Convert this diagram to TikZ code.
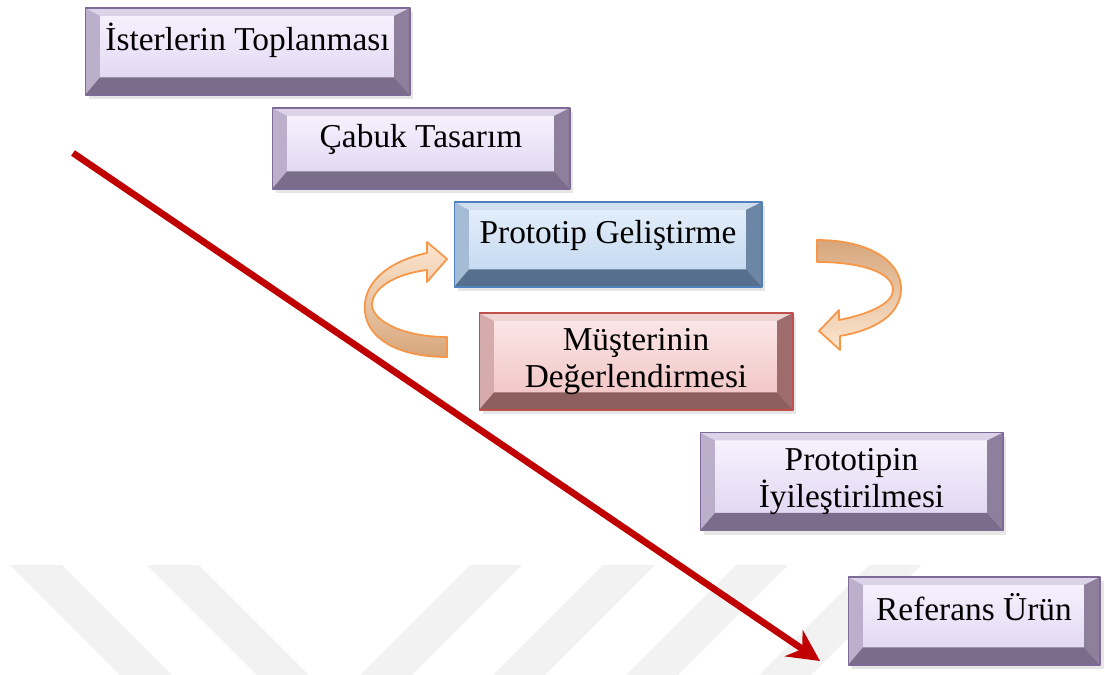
\documentclass[tikz,border=0pt]{standalone}
\usepackage{fontspec}
\setmainfont{Liberation Serif}
\usetikzlibrary{arrows.meta,shadows}
\definecolor{puedge}{HTML}{7E6A96}
\definecolor{puhi}{HTML}{F8F4FE}
\definecolor{pulo}{HTML}{DED2F0}
\definecolor{putop}{HTML}{DDD3E9}
\definecolor{puleft}{HTML}{BCAFCC}
\definecolor{puright}{HTML}{8E7F9D}
\definecolor{pubot}{HTML}{7A6C8A}
\definecolor{bledge}{HTML}{4F81BD}
\definecolor{blhi}{HTML}{E6F0FB}
\definecolor{bllo}{HTML}{BDD4EE}
\definecolor{bltop}{HTML}{D0DEEE}
\definecolor{blleft}{HTML}{A6BCD6}
\definecolor{blright}{HTML}{6C87A6}
\definecolor{blbot}{HTML}{566F8C}
\definecolor{rdedge}{HTML}{C0504D}
\definecolor{rdhi}{HTML}{FCE8E8}
\definecolor{rdlo}{HTML}{F0C0C0}
\definecolor{rdtop}{HTML}{EFD4D4}
\definecolor{rdleft}{HTML}{D6ABAB}
\definecolor{rdright}{HTML}{9E6C6C}
\definecolor{rdbot}{HTML}{8C5E5E}
\definecolor{oredge}{HTML}{F79646}
\definecolor{orlight}{HTML}{FDE6D0}
\definecolor{ordark}{HTML}{D6A67C}
\definecolor{arred}{HTML}{C00000}
\definecolor{stripe}{HTML}{F2F2F2}
\tikzset{
	keybox/.style={draw=#1edge,line width=.6pt,top color=#1hi,bottom color=#1lo,
		drop shadow={opacity=.2,shadow xshift=2pt,shadow yshift=-2.5pt},
		font=\fontsize{19}{21.5}\selectfont,align=center,inner sep=0pt,
		path picture={
			\coordinate (nw) at (path picture bounding box.north west);
			\coordinate (ne) at (path picture bounding box.north east);
			\coordinate (sw) at (path picture bounding box.south west);
			\coordinate (se) at (path picture bounding box.south east);
			\fill[#1top] (nw)--(ne)--([shift={(-9pt,-4.5pt)}]ne)--([shift={(8.5pt,-4.5pt)}]nw)--cycle;
			\fill[#1left] (nw)--([shift={(8.5pt,-4.5pt)}]nw)--([shift={(8.5pt,10pt)}]sw)--(sw)--cycle;
			\fill[#1right] (ne)--(se)--([shift={(-9pt,10pt)}]se)--([shift={(-9pt,-4.5pt)}]ne)--cycle;
			\fill[#1bot] (sw)--(se)--([shift={(-9pt,10pt)}]se)--([shift={(8.5pt,10pt)}]sw)--cycle;
		}},
	oneline/.style={text height=9pt,text depth=10pt},
	loopar/.style={draw=oredge,line width=1pt,line join=round},
	mainar/.style={draw=arred,line width=3.8pt,-{Stealth[length=18pt,width=18pt]}},
}
\begin{document}
\begin{tikzpicture}[x=0.02cm,y=-0.02cm,line join=round]
		\useasboundingbox (0,0) rectangle (1105,675);
		\fill[stripe] (10,565)--(62,565)--(172,675)--(120,675)--cycle;
		\fill[stripe] (147,565)--(199,565)--(309,675)--(257,675)--cycle;
		\fill[stripe] (470,565)--(522,565)--(412,675)--(360,675)--cycle;
		\fill[stripe] (603,565)--(655,565)--(545,675)--(493,675)--cycle;
		\fill[stripe] (736,565)--(788,565)--(678,675)--(626,675)--cycle;
		\fill[stripe] (869,565)--(921,565)--(811,675)--(759,675)--cycle;
		\node[keybox=pu,oneline,minimum width=6.5cm,minimum height=1.74cm] (topla) at (247.5,51.5) {İsterlerin Toplanması};
		\node[keybox=pu,oneline,minimum width=5.96cm,minimum height=1.62cm] (tasarim) at (421,148.5) {Çabuk Tasarım};
		\node[keybox=bl,oneline,minimum width=6.16cm,minimum height=1.7cm] (gelistir) at (608,244.5) {Prototip Geliştirme};
		\node[keybox=rd,minimum width=6.28cm,minimum height=1.94cm] (musteri) at (636,361.5) {Müşterinin\\Değerlendirmesi};
		\node[keybox=pu,minimum width=6.06cm,minimum height=1.96cm] (iyiles) at (851.5,481.5) {Prototipin\\İyileştirilmesi};
		\node[keybox=pu,oneline,minimum width=5.04cm,minimum height=1.76cm] (urun) at (974,621) {Referans Ürün};
		\draw[loopar,top color=orlight,bottom color=ordark] (447,337) .. controls (405,337) and (373,322) .. (372,305) .. controls (372,288) and (395,274) .. (427,270)--(427,282)--(447,259)--(427,242)--(427,253) .. controls (385,262) and (362,285) .. (365,312) .. controls (368,340) and (400,357) .. (447,357)--cycle;
		\draw[loopar,top color=ordark,bottom color=orlight] (817,240) .. controls (870,240) and (902,262) .. (901,290) .. controls (900,315) and (875,330) .. (840,336)--(840,350)--(819,331)--(839,310)--(839,320) .. controls (870,314) and (893,303) .. (893,290) .. controls (893,272) and (860,262) .. (817,262)--cycle;
		\coordinate (basla) at (73,153);
		\coordinate (bitis) at (820,661);
		\draw[mainar] (basla)--(bitis);
		\end{tikzpicture}
\end{document}
